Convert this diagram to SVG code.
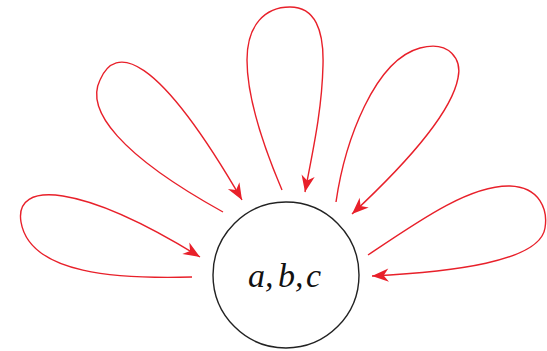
<svg xmlns="http://www.w3.org/2000/svg" width="547" height="351" viewBox="0 0 547 351">
<style>
.loop{fill:none;stroke:#e8202a;stroke-width:1.4;marker-end:url(#ah)}
.node{fill:#fff;stroke:#222;stroke-width:1.4}
.lbl{font-family:"Liberation Serif",serif;font-style:italic;font-size:34px;fill:#111}
</style>
<defs>
<marker id="ah" markerUnits="userSpaceOnUse" markerWidth="20" markerHeight="20" viewBox="-16 -8 18 16" refX="0" refY="0" orient="auto">
<path d="M0,0 L-15,-6 L-10.5,0 L-15,6 z" fill="#e8202a"/>
</marker>
</defs>
<g id="connectors">
<path class="loop" d="M192,277 C120,279 30,275 21,222 C14,180 80,183 200,257"/>
<path class="loop" d="M223,212 C120,155 85,110 100,80 C115,45 155,50 242,200"/>
<path class="loop" d="M282,190 C265,150 247,100 247,60 C247,25 265,7 290,7 C315,7 324,30 323,65 C322,110 313,150 305,192"/>
<path class="loop" d="M336,202 C345,140 375,60 420,48 C450,40 462,60 458,78 C452,110 410,160 352,214"/>
<path class="loop" d="M368,255 C420,220 470,185 510,186 C540,187 548,210 545,228 C540,262 450,272 372,276"/>
</g>
<g id="node-abc">
<circle class="node" cx="286" cy="275" r="73"/>
<text class="lbl" x="248 265 278 295 306" y="287">a,b,c</text>
</g>
</svg>
